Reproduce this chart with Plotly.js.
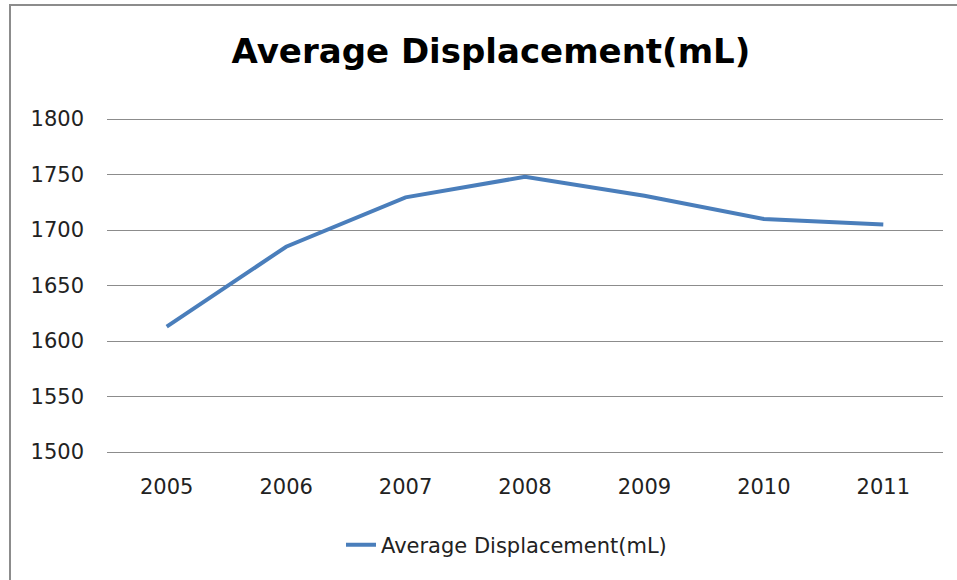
<!DOCTYPE html>
<html>
<head>
<meta charset="utf-8">
<script src="https://cdn.plot.ly/plotly-3.0.1.min.js"></script>
<style>
  html, body { margin: 0; padding: 0; background: #fff; }
  #wrap { position: relative; width: 957px; height: 580px; overflow: hidden; }
  #chart { width: 957px; height: 580px; }
  #frame { position: absolute; left: 9px; top: 4px; width: 1000px; height: 1000px;
           border-left: 2px solid #8c8c8c; border-top: 2px solid #8c8c8c; pointer-events: none; }
</style>
</head>
<body>
<div id="wrap">
  <div id="chart"></div>
  <div id="frame"></div>
</div>
<script>
const years = ['2005', '2006', '2007', '2008', '2009', '2010', '2011'];
const avgDisplacement = [1613, 1685, 1729.5, 1748, 1731, 1710, 1705];
const seriesName = 'Average Displacement(mL)';
const chartTitle = 'Average Displacement(mL)';
const yTicks = [1500, 1550, 1600, 1650, 1700, 1750, 1800];

const trace = {
  x: years,
  y: avgDisplacement,
  type: 'scatter',
  mode: 'lines',
  name: seriesName,
  line: { color: '#4a7ebb', width: 4 },
  showlegend: true
};

const tickFont = { family: 'DejaVu Sans, sans-serif', size: 21, color: '#222222' };

const layout = {
  width: 957,
  height: 580,
  paper_bgcolor: '#ffffff',
  plot_bgcolor: '#ffffff',
  margin: { l: 107, r: 14, t: 118, b: 128 },
  title: {
    text: chartTitle,
    font: { family: 'DejaVu Sans, sans-serif', size: 34, color: '#000000', weight: 'bold' },
    x: 0.513, xanchor: 'center', xref: 'container',
    y: 0.912, yanchor: 'middle', yref: 'container'
  },
  xaxis: {
    type: 'category',
    range: [-0.5, 6.5],
    showgrid: false,
    showline: true,
    linecolor: '#8c8c8c',
    linewidth: 1,
    ticks: '',
    ticklabelstandoff: 16,
    tickfont: tickFont,
    fixedrange: true
  },
  yaxis: {
    range: [1500, 1801],
    tickvals: yTicks,
    ticktext: yTicks.map(String),
    showgrid: true,
    gridcolor: '#8c8c8c',
    gridwidth: 1,
    zeroline: false,
    showline: false,
    ticks: '',
    ticklabelstandoff: 22,
    tickfont: tickFont,
    fixedrange: true
  },
  showlegend: true,
  legend: {
    orientation: 'h',
    x: (341 - 107) / 836, xanchor: 'left',
    y: -0.279, yanchor: 'middle',
    font: tickFont,
    bgcolor: 'rgba(0,0,0,0)'
  }
};

Plotly.newPlot('chart', [trace], layout, { displayModeBar: false, staticPlot: true });
</script>
</body>
</html>
